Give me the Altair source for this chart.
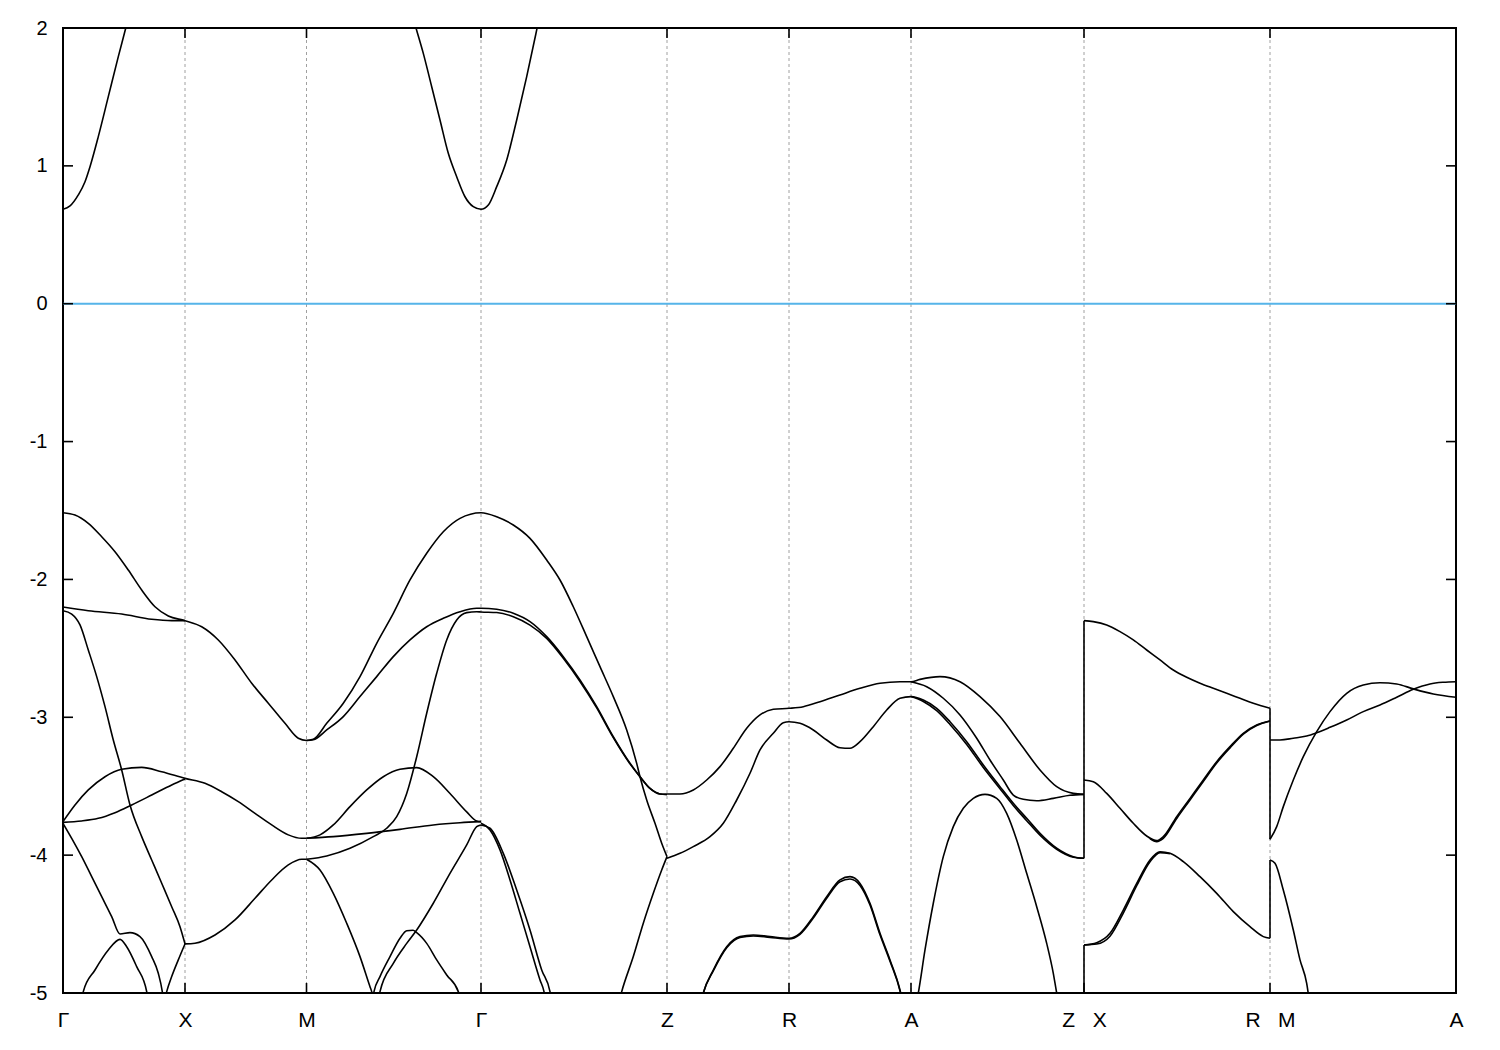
import altair as alt
import pandas as pd

# ---------------- axis data ----------------
K_SYM = [0.0, 1.22, 2.435, 4.18, 6.04, 7.26, 8.48, 10.21, 12.07, 13.93]
K_LABELS = ["Γ", "X", "M", "Γ", "Z", "R", "A", "Z\u00a0\u00a0\u00a0X", "R\u00a0\u00a0\u00a0M", "A"]
Y_TICKS = [-5, -4, -3, -2, -1, 0, 1, 2]
E_FERMI = [0.0]

# ---------------- band branches (k, E in eV) ----------------
C1_k = [0, 0.07, 0.153, 0.22, 0.27, 0.353, 0.453, 0.553, 0.627, 0.68]
C1_E = [0.685, 0.709, 0.789, 0.885, 0.994, 1.212, 1.502, 1.792, 1.998, 2.15]

C2_k = [3.46, 3.53, 3.603, 3.687, 3.77, 3.853, 3.937, 4.02, 4.103, 4.18, 4.253, 4.337, 4.437, 4.537, 4.637, 4.737, 4.79]
C2_E = [2.18, 2.0, 1.816, 1.574, 1.333, 1.091, 0.921, 0.776, 0.704, 0.685, 0.716, 0.849, 1.043, 1.333, 1.647, 1.986, 2.17]

V1_k = [0, 0.12, 0.253, 0.387, 0.52, 0.653, 0.787, 0.92, 1.053, 1.22,
        1.387, 1.553, 1.72, 1.887, 2.053, 2.22, 2.353, 2.435,
        2.503, 2.637, 2.803, 2.97, 3.137, 3.303, 3.47, 3.637, 3.803, 3.97, 4.18,
        4.337, 4.503, 4.67, 4.837, 4.97, 5.103, 5.237, 5.37, 5.503, 5.637, 5.737, 5.77, 5.837, 5.92, 5.987, 6.04]
V1_E = [-1.516, -1.533, -1.593, -1.690, -1.799, -1.932, -2.077, -2.198, -2.265, -2.299,
        -2.343, -2.439, -2.584, -2.753, -2.898, -3.044, -3.152, -3.168,
        -3.160, -3.044, -2.898, -2.705, -2.463, -2.246, -2.004, -1.810, -1.654, -1.557, -1.516,
        -1.545, -1.605, -1.702, -1.859, -2.004, -2.198, -2.415, -2.633, -2.850, -3.092, -3.334, -3.431, -3.600, -3.769, -3.914, -4.011]

V2_k = [0, 0.253, 0.587, 0.887, 1.087, 1.22]
V2_E = [-2.200, -2.227, -2.251, -2.289, -2.299, -2.299]

V3_k = [0, 0.087, 0.17, 0.253, 0.337, 0.42, 0.503, 0.587, 0.67, 0.787, 0.887, 0.987, 1.087, 1.17, 1.22]
V3_E = [-2.227, -2.251, -2.330, -2.512, -2.705, -2.923, -3.165, -3.382, -3.636, -3.866, -4.035, -4.204, -4.374, -4.519, -4.644]

H1_k = [0, 0.12, 0.253, 0.42, 0.587, 0.787, 0.987, 1.22, 1.42, 1.587, 1.753, 1.92, 2.087, 2.253, 2.387, 2.435]
H1_E = [-3.757, -3.636, -3.527, -3.431, -3.377, -3.363, -3.395, -3.443, -3.479, -3.540, -3.612, -3.697, -3.781, -3.853, -3.878, -3.878]

H2_k = [0, 0.187, 0.353, 0.52, 0.687, 0.887, 1.087, 1.22]
H2_E = [-3.762, -3.752, -3.733, -3.692, -3.636, -3.564, -3.491, -3.448]

V7_k = [0, 0.087, 0.187, 0.287, 0.387, 0.487, 0.57, 0.67, 0.77, 0.887, 0.953, 0.993, 1.01]
V7_E = [-3.769, -3.878, -4.011, -4.156, -4.301, -4.446, -4.572, -4.562, -4.591, -4.736, -4.857, -4.990, -5.08]

V8_k = [0.18, 0.203, 0.32, 0.453, 0.57, 0.637, 0.737, 0.837, 0.85]
V8_E = [-5.08, -4.990, -4.833, -4.688, -4.611, -4.664, -4.809, -4.990, -5.05]

V9_k = [1.02, 1.037, 1.087, 1.153, 1.22]
V9_E = [-5.04, -4.990, -4.881, -4.760, -4.644]

V10_k = [1.22, 1.32, 1.52, 1.72, 1.92, 2.087, 2.253, 2.387, 2.435]
V10_E = [-4.644, -4.639, -4.579, -4.470, -4.313, -4.180, -4.071, -4.030, -4.030]

V11_k = [2.435, 2.503, 2.637, 2.803, 2.97, 3.137, 3.303, 3.47, 3.637, 3.803, 3.97, 4.137, 4.18,
         4.337, 4.503, 4.67, 4.837, 5.003, 5.17, 5.337, 5.503, 5.67, 5.77, 5.87, 5.97, 6.04]
V11_E = [-3.168, -3.163, -3.092, -2.995, -2.850, -2.705, -2.560, -2.439, -2.343, -2.282, -2.234, -2.209, -2.209,
         -2.216, -2.245, -2.306, -2.415, -2.560, -2.729, -2.923, -3.141, -3.334, -3.431, -3.516, -3.556, -3.559]

V18_k = [2.435, 2.637, 2.87, 3.103, 3.237, 3.337, 3.437, 3.537, 3.637, 3.737, 3.837, 3.937, 4.037, 4.137, 4.18,
         4.337, 4.503, 4.67, 4.837, 5.003, 5.17, 5.337, 5.503, 5.67, 5.77, 5.87, 5.97, 6.04]
V18_E = [-4.030, -4.006, -3.950, -3.866, -3.805, -3.721, -3.553, -3.286, -2.971, -2.681, -2.439, -2.294, -2.241, -2.234, -2.236,
         -2.240, -2.270, -2.331, -2.428, -2.572, -2.740, -2.932, -3.148, -3.338, -3.431, -3.516, -3.556, -3.559]

V16_k = [2.435, 2.57, 2.703, 2.87, 3.037, 3.203, 3.37, 3.537, 3.703, 3.87, 4.037, 4.137, 4.18]
V16_E = [-3.878, -3.853, -3.781, -3.648, -3.527, -3.431, -3.377, -3.365, -3.431, -3.553, -3.686, -3.752, -3.757]

V17_k = [2.435, 2.703, 3.037, 3.37, 3.703, 3.97, 4.18]
V17_E = [-3.878, -3.866, -3.842, -3.813, -3.781, -3.765, -3.757]

G1_k = [4.18, 4.27, 4.37, 4.47, 4.57, 4.67, 4.77, 4.81, 4.825]
G1_E = [-3.769, -3.817, -3.962, -4.180, -4.422, -4.664, -4.905, -4.990, -5.05]

G2_k = [4.18, 4.27, 4.403, 4.537, 4.67, 4.787, 4.87, 4.885]
G2_E = [-3.781, -3.805, -3.987, -4.253, -4.543, -4.833, -4.990, -5.05]

V15_k = [3.155, 3.17, 3.303, 3.437, 3.537, 3.703, 3.87, 4.037, 4.137, 4.18]
V15_E = [-5.05, -4.990, -4.785, -4.640, -4.543, -4.349, -4.132, -3.926, -3.793, -3.781]

V13_k = [3.095, 3.11, 3.17, 3.27, 3.37, 3.437, 3.50, 3.537, 3.637, 3.737, 3.837, 3.953, 3.97]
V13_E = [-5.05, -4.990, -4.881, -4.736, -4.603, -4.548, -4.545, -4.562, -4.640, -4.760, -4.869, -4.990, -5.04]

V14_k = [2.435, 2.57, 2.703, 2.837, 2.97, 3.07, 3.087, 3.10]
V14_E = [-4.030, -4.108, -4.277, -4.494, -4.736, -4.954, -4.990, -5.03]

V19_k = [5.565, 5.587, 5.703, 5.803, 5.903, 5.987, 6.04]
V19_E = [-5.05, -4.990, -4.736, -4.494, -4.277, -4.108, -4.011]

V20_k = [6.04, 6.17, 6.303, 6.437, 6.57, 6.703, 6.837, 6.97, 7.103, 7.26, 7.403, 7.57, 7.77, 7.97, 8.17, 8.37, 8.48,
         8.57, 8.77, 8.97, 9.17, 9.37, 9.57, 9.77, 9.937, 10.103, 10.21]
V20_E = [-3.556, -3.556, -3.527, -3.455, -3.358, -3.225, -3.080, -2.983, -2.942, -2.935, -2.923, -2.887, -2.838, -2.790, -2.753, -2.742, -2.742,
         -2.725, -2.705, -2.742, -2.850, -2.995, -3.189, -3.382, -3.503, -3.552, -3.559]

V21_k = [6.04, 6.17, 6.303, 6.47, 6.603, 6.737, 6.87, 6.97, 7.103, 7.203, 7.26, 7.37, 7.503, 7.637, 7.77, 7.87, 7.97, 8.103, 8.237, 8.37, 8.48,
         8.603, 8.737, 8.87, 9.037, 9.203, 9.37, 9.503, 9.637, 9.77, 9.937, 10.103, 10.21]
V21_E = [-4.023, -3.987, -3.938, -3.866, -3.769, -3.600, -3.406, -3.237, -3.116, -3.039, -3.032, -3.044, -3.092, -3.165, -3.221, -3.225, -3.177, -3.068, -2.947, -2.862, -2.850,
         -2.875, -2.935, -3.032, -3.177, -3.346, -3.503, -3.624, -3.733, -3.842, -3.950, -4.011, -4.023]

C3_k = [8.48, 8.603, 8.737, 8.87, 9.037, 9.203, 9.37, 9.503, 9.637, 9.77, 9.937, 10.103, 10.21]
C3_E = [-2.850, -2.885, -2.952, -3.052, -3.197, -3.364, -3.518, -3.640, -3.750, -3.856, -3.958, -4.015, -4.023]

B_k = [8.48, 8.637, 8.803, 8.97, 9.137, 9.27, 9.403, 9.503, 9.603, 9.737, 9.903, 10.07, 10.21]
B_E = [-2.742, -2.778, -2.862, -2.983, -3.152, -3.310, -3.455, -3.564, -3.595, -3.605, -3.588, -3.566, -3.559]

V22_k = [6.385, 6.403, 6.503, 6.637, 6.77, 6.903, 7.07, 7.26, 7.37, 7.503, 7.637, 7.77, 7.87, 7.97, 8.07, 8.17, 8.27, 8.37, 8.39]
V22_E = [-5.05, -5.0, -4.833, -4.664, -4.591, -4.579, -4.591, -4.603, -4.567, -4.446, -4.301, -4.180, -4.156, -4.205, -4.350, -4.567, -4.760, -4.978, -5.04]
V22b_E = [-5.05, -5.0, -4.840, -4.672, -4.598, -4.586, -4.597, -4.608, -4.574, -4.456, -4.312, -4.193, -4.173, -4.220, -4.362, -4.578, -4.770, -4.985, -5.05]

V23_k = [8.54, 8.553, 8.62, 8.703, 8.803, 8.903, 9.003, 9.103, 9.22, 9.337, 9.437, 9.537, 9.637, 9.737, 9.837, 9.903, 9.937, 9.95]
V23_E = [-5.05, -5.0, -4.688, -4.349, -4.011, -3.793, -3.660, -3.588, -3.559, -3.588, -3.697, -3.890, -4.132, -4.374, -4.640, -4.857, -5.0, -5.05]

V24_k = [10.21, 10.303, 10.437, 10.57, 10.703, 10.837, 10.97, 11.103, 11.237, 11.37, 11.503, 11.637, 11.77, 11.903, 12.07]
V24_E = [-2.299, -2.306, -2.330, -2.379, -2.439, -2.512, -2.584, -2.657, -2.710, -2.753, -2.790, -2.826, -2.862, -2.898, -2.935]

V25_k = [10.21, 10.303, 10.437, 10.57, 10.703, 10.837, 10.937, 11.003, 11.137, 11.27, 11.403, 11.537, 11.67, 11.803, 11.937, 12.07]
V25_E = [-3.455, -3.467, -3.552, -3.660, -3.769, -3.861, -3.895, -3.866, -3.721, -3.588, -3.455, -3.322, -3.213, -3.116, -3.056, -3.027]

V25b_k = [10.87, 10.937, 11.003, 11.137, 11.27, 11.403, 11.537, 11.67, 11.803, 11.937, 12.07]
V25b_E = [-3.880, -3.902, -3.878, -3.734, -3.600, -3.466, -3.332, -3.222, -3.122, -3.060, -3.027]

V26_k = [10.21, 10.337, 10.47, 10.603, 10.737, 10.87, 10.97, 11.07, 11.203, 11.37, 11.537, 11.703, 11.87, 12.003, 12.07]
V26_E = [-4.652, -4.635, -4.567, -4.398, -4.205, -4.035, -3.975, -3.987, -4.047, -4.156, -4.277, -4.410, -4.519, -4.591, -4.603]

V26b_k = [10.21, 10.337, 10.47, 10.603, 10.737, 10.87, 10.97, 11.07]
V26b_E = [-4.652, -4.645, -4.588, -4.420, -4.222, -4.048, -3.982, -3.990]

V27_k = [12.07, 12.17, 12.303, 12.437, 12.537, 12.67, 12.837, 13.003, 13.17, 13.337, 13.503, 13.67, 13.803, 13.93]
V27_E = [-3.165, -3.165, -3.152, -3.136, -3.112, -3.073, -3.020, -2.959, -2.911, -2.855, -2.797, -2.758, -2.746, -2.742]

V28_k = [12.07, 12.137, 12.203, 12.303, 12.403, 12.537, 12.67, 12.837, 13.003, 13.17, 13.337, 13.503, 13.703, 13.93]
V28_E = [-3.885, -3.793, -3.648, -3.455, -3.286, -3.104, -2.959, -2.826, -2.766, -2.749, -2.758, -2.794, -2.831, -2.855]

V29_k = [12.07, 12.12, 12.203, 12.303, 12.37, 12.437, 12.46]
V29_E = [-4.035, -4.059, -4.253, -4.543, -4.760, -4.930, -5.04]

# vertical jumps at the discontinuous path points (Z|X and R|M)
JUMP_K = [10.21, 10.21, 12.07, 12.07]
JUMP_E1 = [-2.299, -4.652, -2.935, -4.035]
JUMP_E2 = [-4.023, -5.10, -3.885, -4.603]

BRANCHES = {
    "C1": (C1_k, C1_E), "C2": (C2_k, C2_E), "V1": (V1_k, V1_E), "V2": (V2_k, V2_E),
    "V3": (V3_k, V3_E), "H1": (H1_k, H1_E), "H2": (H2_k, H2_E), "V7": (V7_k, V7_E),
    "V8": (V8_k, V8_E), "V9": (V9_k, V9_E), "V10": (V10_k, V10_E), "V11": (V11_k, V11_E),
    "V18": (V18_k, V18_E), "V16": (V16_k, V16_E), "V17": (V17_k, V17_E), "G1": (G1_k, G1_E),
    "G2": (G2_k, G2_E), "V15": (V15_k, V15_E), "V13": (V13_k, V13_E), "V14": (V14_k, V14_E),
    "V19": (V19_k, V19_E), "V20": (V20_k, V20_E), "V21": (V21_k, V21_E), "C3": (C3_k, C3_E),
    "B": (B_k, B_E), "V22": (V22_k, V22_E), "V22b": (V22_k, V22b_E), "V23": (V23_k, V23_E),
    "V24": (V24_k, V24_E), "V25": (V25_k, V25_E), "V25b": (V25b_k, V25b_E), "V26": (V26_k, V26_E),
    "V26b": (V26b_k, V26b_E), "V27": (V27_k, V27_E), "V28": (V28_k, V28_E), "V29": (V29_k, V29_E),
}

rows = []
for name, (ks, es) in BRANCHES.items():
    for i, (k, e) in enumerate(zip(ks, es, strict=True)):
        rows.append({"band": name, "i": i, "k": k, "E": e})
band_df = pd.DataFrame(rows)
jump_df = pd.DataFrame({"k": JUMP_K, "E": JUMP_E1, "E2": JUMP_E2})
grid_df = pd.DataFrame({"k": K_SYM[1:-1]})
xt_df = pd.DataFrame({"k": K_SYM})
yt_df = pd.DataFrame({"E": Y_TICKS})
fermi_df = pd.DataFrame({"E": E_FERMI})

W, H = 1393, 965

# label expression for the k-axis
expr = "'" + K_LABELS[-1] + "'"
for i in range(len(K_SYM) - 2, -1, -1):
    mid = (K_SYM[i] + K_SYM[i + 1]) / 2
    expr = f"datum.value < {mid:.4f} ? '{K_LABELS[i]}' : (" + expr + ")"

xscale = alt.Scale(domain=[K_SYM[0], K_SYM[-1]], nice=False, zero=False)
yscale = alt.Scale(domain=[-5, 2], nice=False, zero=False)
xaxis = alt.Axis(values=K_SYM, labelExpr=expr, ticks=False, domain=False, grid=False, title=None,
                 labelFontSize=21, labelFont="Liberation Sans", labelColor="black",
                 labelPadding=16, labelFlush=False, labelOverlap=False)
yaxis = alt.Axis(values=Y_TICKS, labelExpr="'' + datum.value", ticks=False, domain=False, grid=False,
                 title=None, labelFontSize=20, labelFont="Liberation Sans", labelColor="black",
                 labelPadding=16, labelFlush=False, labelOverlap=False)

X = alt.X("k:Q", scale=xscale, axis=xaxis)
Y = alt.Y("E:Q", scale=yscale, axis=yaxis)

grid = alt.Chart(grid_df).mark_rule(color="#a0a0a0", strokeDash=[3, 3], strokeWidth=1).encode(x=X)
fermi = alt.Chart(fermi_df).mark_rule(color="#56b4e9", strokeWidth=2).encode(y=Y)
bands = alt.Chart(band_df).mark_line(color="black", strokeWidth=1.6, clip=True, interpolate="monotone").encode(
    x=X, y=Y, detail="band:N", order="i:Q")
jumps = alt.Chart(jump_df).mark_rule(color="black", strokeWidth=1.6, clip=True).encode(x=X, y=Y, y2="E2:Q")

tick_style = dict(color="black", strokeWidth=1.6)
yt_left = alt.Chart(yt_df).mark_rule(**tick_style).encode(y=Y, x=alt.value(0), x2=alt.value(10))
yt_right = alt.Chart(yt_df).mark_rule(**tick_style).encode(y=Y, x=alt.value(W - 10), x2=alt.value(W))
xt_bot = alt.Chart(xt_df).mark_rule(**tick_style).encode(x=X, y=alt.value(H - 10), y2=alt.value(H))
xt_top = alt.Chart(xt_df).mark_rule(**tick_style).encode(x=X, y=alt.value(0), y2=alt.value(10))

chart = alt.layer(grid, fermi, bands, jumps, yt_left, yt_right, xt_bot, xt_top).properties(
    width=W, height=H,
    autosize=alt.AutoSizeParams(type="none"),
    padding={"left": 55, "top": 20, "right": 30, "bottom": 50},
).configure(font="Liberation Sans").configure_view(stroke="black", strokeWidth=2)

chart.save("out.html", embed_options={"renderer": "svg", "actions": False})
